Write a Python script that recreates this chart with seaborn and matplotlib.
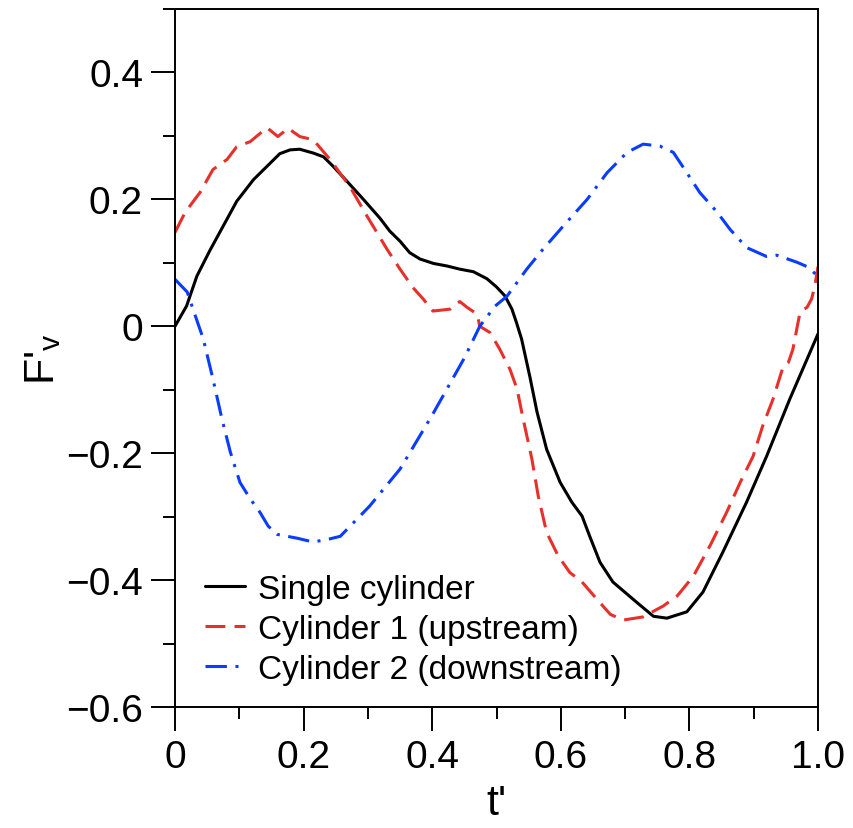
import numpy as np
import pandas as pd
import seaborn as sns
from matplotlib import pyplot as plt
from matplotlib.ticker import MultipleLocator, FixedLocator, FixedFormatter

# Single cylinder
t_single = [0.0, 0.018, 0.034, 0.054, 0.075, 0.096, 0.122, 0.143, 0.163, 0.179, 0.194, 0.215,
            0.231, 0.246, 0.267, 0.293, 0.319, 0.334, 0.350, 0.365, 0.381, 0.402, 0.423, 0.443,
            0.464, 0.485, 0.50, 0.513, 0.524, 0.531, 0.539, 0.552, 0.563, 0.578, 0.599, 0.617,
            0.633, 0.645, 0.661, 0.681, 0.718, 0.744, 0.765, 0.796, 0.821, 0.852, 0.889, 0.92,
            0.956, 1.0]
f_single = [0.0, 0.032, 0.079, 0.119, 0.158, 0.197, 0.231, 0.252, 0.272, 0.278, 0.279, 0.273,
            0.267, 0.252, 0.229, 0.200, 0.170, 0.150, 0.134, 0.116, 0.106, 0.099, 0.095, 0.090,
            0.086, 0.075, 0.062, 0.048, 0.027, 0.006, -0.020, -0.080, -0.135, -0.194, -0.246, -0.277,
            -0.299, -0.331, -0.372, -0.403, -0.435, -0.457, -0.460, -0.450, -0.419, -0.356, -0.277, -0.205,
            -0.115, -0.012]

# Cylinder 1 (upstream)
t_up = [0.0, 0.016, 0.039, 0.059, 0.081, 0.096, 0.117, 0.143, 0.160, 0.176, 0.194, 0.215,
        0.241, 0.272, 0.299, 0.33, 0.35, 0.37, 0.386, 0.401, 0.428, 0.443, 0.454, 0.47, 0.474,
        0.49, 0.505, 0.521, 0.532, 0.541, 0.555, 0.565, 0.578, 0.596, 0.614, 0.633, 0.656,
        0.677, 0.697, 0.728, 0.759, 0.781, 0.806, 0.832, 0.858, 0.879, 0.899, 0.914, 0.930,
        0.946, 0.954, 0.961, 0.972, 0.983, 0.990, 0.995, 1.0]
f_up = [0.148, 0.18, 0.211, 0.247, 0.263, 0.283, 0.291, 0.313, 0.299, 0.312, 0.299, 0.294,
        0.263, 0.220, 0.173, 0.121, 0.090, 0.061, 0.043, 0.024, 0.027, 0.039, 0.030, 0.019, 0.0,
        -0.010, -0.036, -0.068, -0.099, -0.144, -0.209, -0.268, -0.325, -0.362, -0.388, -0.403, -0.430,
        -0.454, -0.463, -0.458, -0.441, -0.425, -0.394, -0.346, -0.293, -0.246, -0.205, -0.157, -0.115,
        -0.063, -0.057, -0.036, 0.022, 0.030, 0.043, 0.063, 0.094]

# Cylinder 2 (downstream)
t_down = [0.0, 0.019, 0.028, 0.044, 0.059, 0.073, 0.086, 0.101, 0.117, 0.132, 0.145, 0.159,
          0.19, 0.215, 0.241, 0.257, 0.283, 0.303, 0.324, 0.35, 0.40, 0.45, 0.474, 0.498, 0.516,
          0.547, 0.572, 0.603, 0.641, 0.672, 0.703, 0.728, 0.754, 0.775, 0.796, 0.816, 0.843,
          0.863, 0.889, 0.92, 0.936, 0.967, 0.983, 1.0]
f_down = [0.074, 0.054, 0.027, -0.020, -0.083, -0.146, -0.198, -0.246, -0.272, -0.293, -0.315, -0.328,
          -0.334, -0.340, -0.335, -0.331, -0.304, -0.283, -0.257, -0.225, -0.140, -0.050, 0.0, 0.032, 0.047,
          0.090, 0.121, 0.157, 0.200, 0.242, 0.274, 0.287, 0.284, 0.274, 0.242, 0.211, 0.180,
          0.153, 0.124, 0.110, 0.112, 0.101, 0.094, 0.079]

xtick_vals = [0, 0.2, 0.4, 0.6, 0.8, 1.0]
xtick_labels = ['0', '0.2', '0.4', '0.6', '0.8', '1.0']
ytick_vals = [-0.6, -0.4, -0.2, 0, 0.2, 0.4]
ytick_labels = ['\u22120.6', '\u22120.4', '\u22120.2', '0', '0.2', '0.4']

sns.set_style('ticks')
plt.rcParams['font.family'] = ['Liberation Sans', 'DejaVu Sans']
plt.rcParams['mathtext.fontset'] = 'custom'
plt.rcParams['mathtext.rm'] = 'Liberation Sans'
plt.rcParams['mathtext.it'] = 'Liberation Sans'
plt.rcParams['text.color'] = 'black'
plt.rcParams['axes.labelcolor'] = 'black'

fig = plt.figure(figsize=(8.54, 8.29), dpi=100)
ax = fig.add_axes([175 / 854, 1 - 708 / 829, 643 / 854, 698 / 829])

lw = 2.2
sns.lineplot(x=t_single, y=f_single, ax=ax, color='black', lw=lw, sort=False,
             errorbar=None, label='Single cylinder')
sns.lineplot(x=t_up, y=f_up, ax=ax, color='#e8302a', lw=lw, sort=False,
             errorbar=None, linestyle=(0, (6.5, 3)), label='Cylinder 1 (upstream)')
sns.lineplot(x=t_down, y=f_down, ax=ax, color='#0a3cff', lw=lw, sort=False,
             errorbar=None, linestyle=(0, (7, 2.8, 1, 2.8)), label='Cylinder 2 (downstream)')

ax.set_xlim(0, 1.0)
ax.set_ylim(-0.6, 0.5)
ax.xaxis.set_major_locator(FixedLocator(xtick_vals))
ax.xaxis.set_major_formatter(FixedFormatter(xtick_labels))
ax.yaxis.set_major_locator(FixedLocator(ytick_vals))
ax.yaxis.set_major_formatter(FixedFormatter(ytick_labels))
ax.xaxis.set_minor_locator(MultipleLocator(0.1))
ax.yaxis.set_minor_locator(MultipleLocator(0.1))

for s in ax.spines.values():
    s.set_linewidth(1.4)
    s.set_color('black')
ax.tick_params(which='major', direction='out', length=17, width=1.4, labelsize=28, pad=6,
               colors='black')
ax.tick_params(which='minor', direction='out', length=8.5, width=1.4, colors='black')

ax.set_xlabel("t'", fontsize=31, labelpad=6)
ax.set_ylabel("F'$_{\\rm v}$", fontsize=31, labelpad=2)

leg = ax.legend(loc='lower left', frameon=False, fontsize=24, handlelength=1.2,
                handletextpad=0.4, labelspacing=0.27, borderaxespad=0.0,
                bbox_to_anchor=(0.026, 0.013))

plt.savefig('out.png', dpi=100)
plt.close()
